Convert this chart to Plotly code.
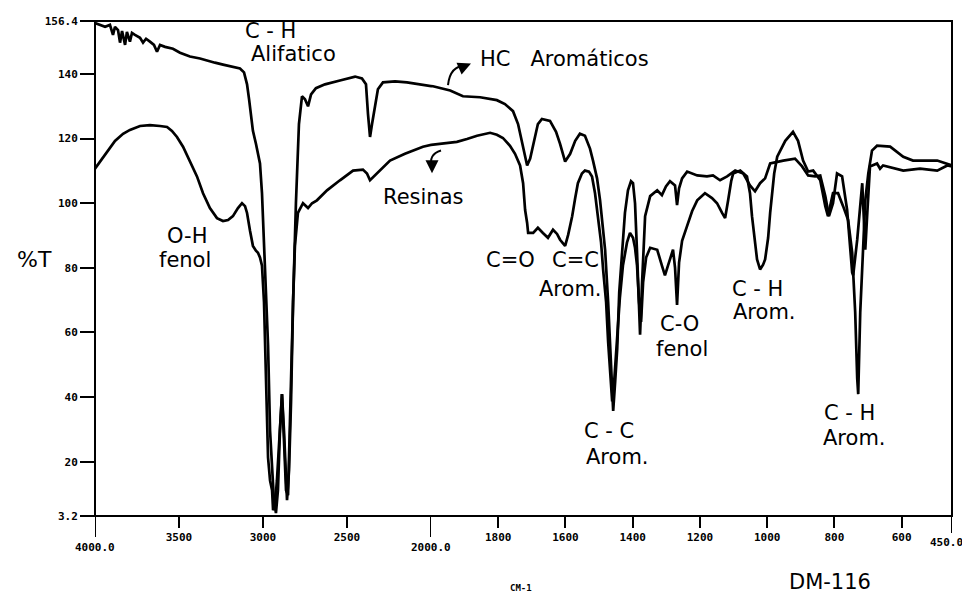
import plotly.graph_objects as go

# ---------------- data (wavenumber cm-1, %T) ----------------
hc_wn = [4000, 3970, 3940, 3911, 3893, 3881, 3863, 3851, 3839, 3821, 3810, 3792, 3780, 3762, 3732, 3714,
         3696, 3673, 3649, 3631, 3613, 3583, 3536, 3494, 3435, 3375, 3333, 3286, 3238, 3185, 3137, 3113,
         3095, 3083, 3071, 3060, 3042, 3018, 3006, 2994, 2982, 2970, 2958, 2946, 2935, 2923, 2911, 2899,
         2887, 2875, 2863, 2851, 2839, 2821, 2804, 2786, 2768, 2750, 2732, 2714, 2685, 2631, 2542, 2452,
         2411, 2387, 2375, 2363, 2351, 2333, 2316, 2286, 2214, 2143, 2066, 1994, 1943, 1905, 1854, 1804,
         1780, 1756, 1741, 1729, 1714, 1705, 1696, 1682, 1670, 1646, 1628, 1616, 1601, 1586, 1571, 1557,
         1542, 1527, 1518, 1506, 1497, 1488, 1482, 1473, 1467, 1461, 1458, 1452, 1446, 1440, 1432, 1423,
         1414, 1405, 1399, 1393, 1387, 1384, 1378, 1372, 1363, 1348, 1327, 1313, 1301, 1289, 1274, 1268,
         1262, 1253, 1238, 1208, 1179, 1161, 1140, 1119, 1095, 1071, 1051, 1036, 1021, 1006, 991, 952,
         917, 896, 878, 857, 842, 827, 816, 804, 792, 777, 762, 747, 744, 732, 723, 717, 714, 708, 702,
         694, 673, 664, 655, 595, 545, 494, 464, 450]
hc_t = [155.8, 155.2, 154.6, 155.2, 152.1, 154.6, 153.6, 149.7, 153.3, 149.0, 153.0, 150.0, 152.7, 152.1, 151.2, 149.7,
        150.9, 150.0, 149.0, 146.9, 149.0, 148.4, 147.8, 146.6, 145.4, 144.8, 144.1, 143.5, 142.9, 142.3, 141.7, 140.5,
        136.8, 132.2, 127.6, 122.4, 118.4, 112.3, 103.1, 86.8, 69.4, 56.2, 29.6, 17.3, 8.1, 4.1, 11.2, 29.6,
        40.9, 26.5, 11.2, 9.6, 35.7, 69.4, 100.0, 124.5, 133.1, 132.2, 130.0, 133.7, 135.6, 136.8, 138.0, 139.2,
        138.6, 136.8, 127.6, 120.5, 124.5, 130.7, 135.3, 137.4, 137.7, 137.4, 136.8, 136.2, 134.9, 133.1, 132.8, 131.9,
        130.7, 128.5, 124.5, 118.4, 111.7, 113.8, 118.4, 124.5, 126.1, 125.5, 122.1, 118.4, 112.9, 115.3, 119.3, 121.5,
        120.9, 116.9, 113.2, 107.7, 100.9, 92.4, 85.6, 69.4, 55.0, 40.3, 35.7, 44.9, 55.0, 72.4, 85.6, 97.0,
        104.0, 106.8, 106.2, 100.0, 84.7, 75.5, 59.3, 75.5, 96.0, 102.2, 104.0, 102.5, 105.2, 106.8, 105.5, 99.4,
        104.6, 107.7, 109.8, 108.6, 108.3, 108.6, 107.1, 108.3, 110.1, 109.2, 105.5, 103.7, 106.2, 107.7, 112.3, 113.2,
        113.8, 111.4, 108.6, 108.3, 108.6, 102.2, 96.0, 100.0, 109.2, 108.3, 97.9, 78.6, 77.7, 88.7, 100.9, 106.2, 99.1, 85.6, 97.0,
        111.4, 112.3, 110.7, 111.7, 110.1, 110.7, 110.1, 111.7, 111.4]

res_wn = [4000, 3970, 3940, 3911, 3881, 3833, 3792, 3732, 3673, 3613, 3571, 3542, 3512, 3476, 3435, 3393,
          3357, 3316, 3274, 3238, 3208, 3179, 3149, 3125, 3107, 3095, 3077, 3060, 3042, 3030, 3018, 3006,
          2994, 2988, 2976, 2970, 2958, 2946, 2940, 2929, 2917, 2905, 2893, 2887, 2875, 2863, 2857, 2845,
          2833, 2821, 2810, 2792, 2762, 2732, 2708, 2679, 2619, 2542, 2464, 2405, 2381, 2363, 2345, 2322,
          2286, 2244, 2155, 2048, 1973, 1923, 1893, 1863, 1824, 1804, 1786, 1765, 1750, 1735, 1726, 1720,
          1714, 1711, 1696, 1682, 1667, 1652, 1637, 1625, 1616, 1601, 1592, 1580, 1571, 1563, 1551, 1542,
          1530, 1521, 1512, 1503, 1494, 1488, 1479, 1473, 1467, 1461, 1455, 1446, 1438, 1429, 1417, 1408,
          1399, 1393, 1387, 1381, 1375, 1369, 1360, 1348, 1327, 1313, 1304, 1295, 1289, 1280, 1274, 1268,
          1262, 1253, 1238, 1223, 1208, 1185, 1164, 1149, 1134, 1125, 1116, 1107, 1101, 1080, 1060, 1051,
          1045, 1036, 1030, 1021, 1012, 1006, 997, 991, 979, 970, 946, 923, 908, 893, 878, 863, 842, 827,
          819, 804, 789, 774, 759, 747, 738, 732, 729, 723, 714, 708, 699, 688, 673, 634, 595, 566, 494,
          464, 450]
res_t = [110.7, 112.9, 115.3, 117.5, 119.3, 121.5, 122.7, 123.9, 124.2, 123.9, 123.6, 122.4, 120.5, 117.5, 113.2, 108.3,
         103.1, 98.5, 95.4, 94.5, 94.8, 96.0, 98.5, 100.0, 99.1, 97.0, 91.4, 86.8, 85.3, 84.7, 83.2, 80.7,
         69.4, 56.2, 38.7, 21.3, 14.2, 11.2, 5.0, 6.6, 14.2, 26.5, 38.7, 40.9, 29.6, 14.2, 8.1, 17.3,
         38.7, 69.4, 86.8, 97.0, 100.0, 98.5, 100.0, 100.9, 104.0, 107.1, 110.1, 110.4, 109.2, 107.1, 108.0, 109.2,
         111.1, 113.2, 115.3, 117.5, 118.4, 119.0, 119.9, 120.9, 121.8, 121.2, 120.2, 117.8, 115.3, 111.7, 106.2, 97.9,
         93.9, 90.8, 90.8, 92.4, 90.8, 89.3, 91.8, 90.5, 88.7, 86.8, 90.2, 96.0, 101.6, 106.2, 109.2, 110.1,
         109.8, 108.3, 103.1, 96.0, 87.8, 79.5, 69.4, 57.1, 46.4, 38.7, 44.9, 60.2, 70.9, 80.7, 87.8, 90.8,
         89.3, 86.2, 80.7, 69.4, 63.3, 75.5, 83.2, 86.2, 85.6, 80.7, 77.7, 80.7, 82.6, 85.6, 80.1, 68.5,
         81.6, 88.4, 93.0, 97.6, 100.9, 103.1, 101.6, 100.0, 97.0, 95.4, 100.9, 106.8, 109.2, 110.1, 108.3, 103.1,
         96.0, 87.8, 82.6, 79.5, 81.0, 82.6, 89.3, 97.0, 109.2, 114.4, 119.3, 122.1, 119.3, 113.2, 109.8, 110.1, 107.1, 99.1,
         96.0, 103.1, 103.1, 99.1, 94.8, 84.7, 66.3, 45.8, 40.9, 66.3, 86.8, 100.9, 109.2, 116.3, 117.8, 117.5, 114.4, 113.2, 113.2,
         112.3, 111.7]

x_break = 2000
x_ticks_left = [3500, 3000, 2500]
x_ticks_right = [1800, 1600, 1400, 1200, 1000, 800, 600]
x_long_ticks = [4000, 2000, 450]
x_long_labels = ["4000.0", "2000.0", "450.0"]
y_ticks = [3.2, 20, 40, 60, 80, 100, 120, 140, 156.4]
y_ticklabels = ["3.2", "20", "40", "60", "80", "100", "120", "140", "156.4"]

# ---------------- layout geometry ----------------
OFF = 8                      # page body margin
W, H = 970 - OFF, 606 - OFF
L, T = 95 - OFF, 15 - OFF
PW, PH = 857, 501
R, B = W - L - PW, H - T - PH
SPLIT = 336 / PW  # 4000-2000 occupies half the scale of 2000-450


def paper(px, py):
    """reference page pixel -> paper fraction"""
    return (px - OFF - L) / PW, (T + PH - (py - OFF)) / PH


def split(wn, t):
    li = [i for i, w in enumerate(wn) if w >= x_break]
    ri = [i for i, w in enumerate(wn) if w < x_break]
    left = li + [ri[0]]
    right = [li[-1]] + ri
    return ([wn[i] for i in left], [t[i] for i in left]), ([wn[i] for i in right], [t[i] for i in right])


fig = go.Figure()
line = dict(color="black", width=2.7)
for wn, t in [(hc_wn, hc_t), (res_wn, res_t)]:
    (lw, lt), (rw, rt) = split(wn, t)
    fig.add_trace(go.Scatter(x=lw, y=lt, mode="lines", line=line, xaxis="x", yaxis="y",
                             showlegend=False, hoverinfo="skip"))
    fig.add_trace(go.Scatter(x=rw, y=rt, mode="lines", line=line, xaxis="x2", yaxis="y",
                             showlegend=False, hoverinfo="skip"))

tickfont = dict(family="DejaVu Sans Mono", size=11, color="black", weight="bold")
fig.update_layout(
    width=W, height=H, margin=dict(l=L, r=R, t=T, b=B),
    paper_bgcolor="white", plot_bgcolor="white",
    xaxis=dict(domain=[0, SPLIT], range=[4000, 2000], anchor="y", tickvals=x_ticks_left,
               ticktext=[str(v) for v in x_ticks_left], ticks="outside", ticklen=11, tickwidth=2,
               tickcolor="black", tickfont=tickfont, showgrid=False, zeroline=False, showline=False),
    xaxis2=dict(domain=[SPLIT, 1], range=[2000, 450], anchor="y", tickvals=x_ticks_right,
                ticktext=[str(v) for v in x_ticks_right], ticks="outside", ticklen=11, tickwidth=2,
                tickcolor="black", tickfont=tickfont, showgrid=False, zeroline=False, showline=False),
    yaxis=dict(range=[3.2, 156.4], anchor="x", tickvals=y_ticks, ticktext=y_ticklabels,
               ticks="outside", ticklen=14, tickwidth=2, tickcolor="black", tickfont=tickfont,
               showgrid=False, zeroline=False, showline=False),
)

# frame
fig.add_shape(type="rect", xref="paper", yref="paper", x0=0, x1=1, y0=0, y1=1,
              line=dict(color="black", width=2))

# long ticks at 4000, 2000, 450
for v in x_long_ticks:
    xr = "x" if v >= x_break else "x2"
    fig.add_shape(type="line", xref=xr, yref="paper", x0=v, x1=v, ysizemode="pixel", yanchor=0,
                  y0=0, y1=-21 if v != 450 else -17, line=dict(color="black", width=2))
for v, lab in zip(x_long_ticks, x_long_labels):
    xr = "x" if v >= x_break else "x2"
    fig.add_annotation(x=v, xref=xr, y=0, yref="paper", yshift=-31 if v != 450 else -26,
                       text=lab, showarrow=False, font=tickfont,
                       xanchor="center", yanchor="middle", xshift=0 if v != 450 else -6)

lab_font = dict(family="DejaVu Sans", size=21, color="black")
labels = [
    ("C - H", 270, 25), ("Alifatico", 293, 48),
    ("O-H", 187, 233), ("fenol", 185, 257),
    ("Resinas", 423, 193),
    ("C=O", 510, 257),
    ("C=C", 575, 257), ("Arom.", 570, 286),
    ("C - C", 609, 430), ("Arom.", 617, 456),
    ("C-O", 679, 322), ("fenol", 682, 347),
    ("C - H", 757, 286), ("Arom.", 764, 310),
    ("C - H", 849, 412), ("Arom.", 854, 437),
]
for txt, px, py in labels:
    xp, yp = paper(px, py)
    fig.add_annotation(x=xp, y=yp, xref="paper", yref="paper", text=txt, showarrow=False,
                       font=lab_font, xanchor="center", yanchor="middle")

xp, yp = paper(478, 53)
fig.add_annotation(x=xp, y=yp, xref="paper", yref="paper", text="HC&nbsp;&nbsp;&nbsp;Aromáticos",
                   showarrow=False, font=lab_font, xanchor="left", yanchor="middle")

# curved arrows
def path(points):
    (x0, y0), (cx, cy), (x1, y1) = [paper(*p) for p in points]
    return f"M {x0} {y0} Q {cx} {cy} {x1} {y1}"

fig.add_shape(type="path", xref="paper", yref="paper",
              path=path([(448, 80), (450, 60), (466, 60)]), line=dict(color="black", width=2))
xp, yp = paper(471, 58)
fig.add_annotation(x=xp, y=yp, xref="paper", yref="paper", ax=-7, ay=3, text="", showarrow=True,
                   arrowhead=2, arrowsize=1.3, arrowwidth=2, arrowcolor="black")

fig.add_shape(type="path", xref="paper", yref="paper",
              path=path([(441, 146), (428, 150), (432, 163)]), line=dict(color="black", width=2))
xp, yp = paper(432, 169)
fig.add_annotation(x=xp, y=yp, xref="paper", yref="paper", ax=0, ay=-7, text="", showarrow=True,
                   arrowhead=2, arrowsize=1.3, arrowwidth=2, arrowcolor="black")

# axis titles and sample id
xp, yp = paper(34, 256)
fig.add_annotation(x=xp, y=yp, xref="paper", yref="paper", text="%T", showarrow=False,
                   font=dict(family="DejaVu Sans", size=22, color="black"), xanchor="center", yanchor="middle")
xp, yp = paper(521, 589)
fig.add_annotation(x=xp, y=yp, xref="paper", yref="paper", text="CM-1", showarrow=False,
                   font=dict(family="DejaVu Sans Mono", size=9, color="black", weight="bold"),
                   xanchor="center", yanchor="middle")
xp, yp = paper(830, 583)
fig.add_annotation(x=xp, y=yp, xref="paper", yref="paper", text="DM-116", showarrow=False,
                   font=dict(family="DejaVu Sans", size=21, color="black"), xanchor="center", yanchor="middle")

fig.write_html("out.html")
